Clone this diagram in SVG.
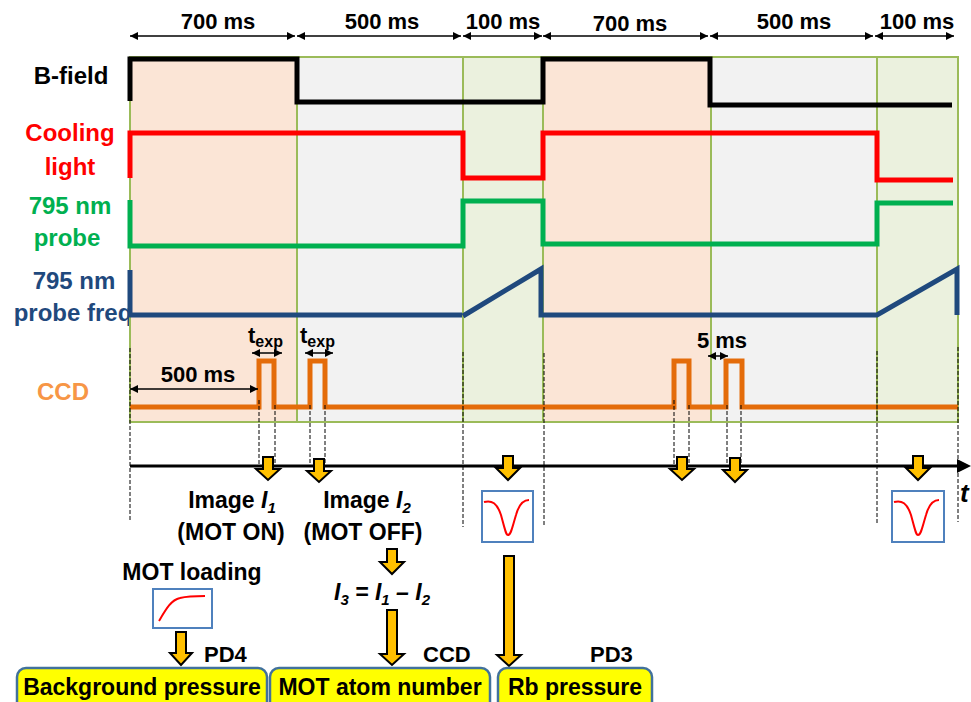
<svg xmlns="http://www.w3.org/2000/svg" width="971" height="702" viewBox="0 0 971 702">
<defs>
<marker id="ah" viewBox="0 0 10 10" refX="10" refY="5" markerWidth="8" markerHeight="8" markerUnits="userSpaceOnUse" orient="auto-start-reverse"><path d="M0,0 L10,5 L0,10 Z" fill="#000"/></marker>
<style>
text{font-family:"Liberation Sans",Arial,sans-serif;font-weight:bold}
.lbl{font-size:24px;text-anchor:middle}
.dim{font-size:22px;text-anchor:middle;fill:#000}
.t{font-size:23px;text-anchor:middle;fill:#000}
.reg{stroke:#9BBB59;stroke-width:2}
.peach{fill:#FBE5D6}.gray{fill:#F2F2F2}.grn{fill:#EBF1DE}
.sig{fill:none;stroke-width:5;stroke-linejoin:miter}
.dash{stroke:#000;stroke-width:1;stroke-dasharray:4,2;fill:none}
.dl{stroke:#000;stroke-width:1.5;fill:none;marker-start:url(#ah);marker-end:url(#ah)}
.blk{fill:#FFC000;stroke:#000;stroke-width:2}
.pbox{fill:#fff;stroke:#4F81BD;stroke-width:2}
.curve{fill:none;stroke:#FF0000;stroke-width:2}
.ybox{fill:#FFFF00;stroke:#41719C;stroke-width:2.5}
</style>
</defs>
<rect width="971" height="702" fill="#fff"/>
<g id="signal-labels">
<text class="lbl" x="71" y="84" fill="#000">B-field</text>
<text class="lbl" x="70" y="141" fill="#FF0000">Cooling</text>
<text class="lbl" x="70" y="175" fill="#FF0000">light</text>
<text class="lbl" x="70" y="214" fill="#00B050">795 nm</text>
<text class="lbl" x="67" y="246" fill="#00B050">probe</text>
<text class="lbl" x="74" y="289" fill="#1F497D">795 nm</text>
<text class="lbl" x="73" y="321" fill="#1F497D">probe freq</text>
<text class="lbl" x="63" y="400" fill="#F79646">CCD</text>
</g>
<g id="regions">
<rect class="reg peach" x="130" y="57" width="167" height="365"/>
<rect class="reg gray" x="297" y="57" width="166" height="365"/>
<rect class="reg grn" x="463" y="57" width="80" height="365"/>
<rect class="reg peach" x="543" y="57" width="168" height="365"/>
<rect class="reg gray" x="711" y="57" width="166" height="365"/>
<rect class="reg grn" x="877" y="57" width="81" height="365"/>
</g>
<g id="durations">
<line class="dl" x1="130" y1="36" x2="295" y2="36"/>
<line class="dl" x1="297" y1="36" x2="461" y2="36"/>
<line class="dl" x1="463" y1="36" x2="542" y2="36"/>
<line class="dl" x1="543" y1="36" x2="708" y2="36"/>
<line class="dl" x1="710" y1="36" x2="873" y2="36"/>
<line class="dl" x1="875" y1="36" x2="954" y2="36"/>
<text class="dim" x="218" y="29">700 ms</text>
<text class="dim" x="382" y="29">500 ms</text>
<text class="dim" x="503" y="29">100 ms</text>
<text class="dim" x="630" y="31">700 ms</text>
<text class="dim" x="794" y="29">500 ms</text>
<text class="dim" x="917" y="29">100 ms</text>
</g>
<g id="signals">
<path id="bfield" class="sig" stroke="#000" d="M130,101 V59 H297 V102 H543 V59 H710 V105 H952"/>
<path id="cooling" class="sig" stroke="#FF0000" d="M130,178 V133 H463 V178 H543 V133 H877 V180 H953"/>
<path id="probe" class="sig" stroke="#00B050" d="M130,200 V246 H463 V201 H543 V244 H877 V203 H953"/>
<path id="probefreq" class="sig" stroke="#1F497D" d="M130,270 V315 H462 M463,316 L541,269 V315 H877 L957,269 V315"/>
<path id="ccd" class="sig" stroke="#E46C0A" stroke-width="4" d="M130,407 H259 V361 H274 V407 H310 V361 H325 V407 H674 V361 H689 V407 H726 V361 H742 V407 H958"/>
</g>
<g id="markers-ccd">
<line class="dl" x1="130" y1="389" x2="258" y2="389"/>
<text class="dim" x="198" y="382">500 ms</text>
<text x="248" y="343" font-size="22" fill="#000">t<tspan font-size="16" dy="4">exp</tspan></text>
<line class="dl" x1="252" y1="353" x2="282" y2="353"/>
<text x="300" y="343" font-size="22" fill="#000">t<tspan font-size="16" dy="4">exp</tspan></text>
<line class="dl" x1="305" y1="353" x2="333" y2="353"/>
<text class="dim" x="722" y="348">5 ms</text>
<line class="dl" x1="708" y1="356" x2="728" y2="356"/>
</g>
<g id="dashes">
<line class="dash" x1="130" y1="348" x2="130" y2="522"/>
<line class="dash" x1="259" y1="400" x2="259" y2="464"/>
<line class="dash" x1="275" y1="405" x2="275" y2="464"/>
<line class="dash" x1="310" y1="405" x2="310" y2="464"/>
<line class="dash" x1="325" y1="405" x2="325" y2="464"/>
<line class="dash" x1="463" y1="352" x2="463" y2="527"/>
<line class="dash" x1="544" y1="353" x2="544" y2="527"/>
<line class="dash" x1="674" y1="400" x2="674" y2="464"/>
<line class="dash" x1="689" y1="405" x2="689" y2="464"/>
<line class="dash" x1="727" y1="405" x2="727" y2="464"/>
<line class="dash" x1="741" y1="405" x2="741" y2="464"/>
<line class="dash" x1="877" y1="351" x2="877" y2="525"/>
<line class="dash" x1="958" y1="347" x2="958" y2="522"/>
</g>
<g id="time-axis">
<line x1="130" y1="466" x2="960" y2="466" stroke="#000" stroke-width="3"/>
<polygon points="957,459 971,466 957,473" fill="#000"/>
<text x="960" y="502" font-size="26" font-style="italic" fill="#000">t</text>
</g>
<g id="connectors">
<path class="blk" d="M263,457 H273 V469 H280 L268,480 L256,469 H263 Z"/>
<path class="blk" d="M314,459 H324 V471 H331 L319,482 L307,471 H314 Z"/>
<path class="blk" d="M503,456 H513 V468 H520 L508,480 L496,468 H503 Z"/>
<path class="blk" d="M677,457 H687 V469 H694 L682,480 L670,469 H677 Z"/>
<path class="blk" d="M730,458 H740 V470 H747 L735,482 L723,470 H730 Z"/>
<path class="blk" d="M913,456 H923 V468 H930 L918,480 L906,468 H913 Z"/>
<path class="blk" d="M387,549 H397 V562 H404 L392,574 L380,562 H387 Z"/>
<path class="blk" d="M387,610 H397 V654 H404 L392,665 L380,654 H387 Z"/>
<path class="blk" d="M176,632 H186 V653 H192 L181,665 L170,653 H176 Z"/>
<path class="blk" d="M504,556 H514 V655 H521 L509,666 L497,655 H504 Z"/>
</g>
<g id="image1">
<text class="t" x="232" y="508">Image <tspan font-style="italic">I</tspan><tspan font-style="italic" font-size="15" dy="5">1</tspan></text>
<text class="t" x="231" y="540">(MOT ON)</text>
</g>
<g id="image2">
<text class="t" x="367" y="508">Image <tspan font-style="italic">I</tspan><tspan font-style="italic" font-size="15" dy="5">2</tspan></text>
<text class="t" x="363" y="540">(MOT OFF)</text>
</g>
<g id="difference">
<text class="t" x="382" y="600" font-style="italic">I<tspan font-size="15" dy="5">3</tspan><tspan dy="-5"> = I</tspan><tspan font-size="15" dy="5">1</tspan><tspan dy="-5"> – I</tspan><tspan font-size="15" dy="5">2</tspan></text>
</g>
<g id="mot-loading">
<text class="t" x="192" y="580">MOT loading</text>
<rect class="pbox" x="153" y="589" width="59" height="39"/>
<path class="curve" d="M159,621 C166,609 171,600 180,598 C188,596 196,596 205,596"/>
</g>
<g id="dip1">
<rect class="pbox" x="482" y="491" width="51" height="51"/>
<path class="curve" d="M484,502 C492,500 497,503 501,515 C505,530 506,535 508,535 C511,535 512,528 516,515 C519,504 523,500 529,500"/>
</g>
<g id="dip2">
<rect class="pbox" x="892" y="491" width="52" height="51"/>
<path class="curve" d="M894,502 C902,500 907,503 911,515 C915,530 916,535 918,535 C921,535 922,528 926,515 C929,504 933,500 939,500"/>
</g>
<g id="detectors">
<text x="204" y="662" font-size="22" fill="#000">PD4</text>
<text x="423" y="662" font-size="22" fill="#000">CCD</text>
<text x="590" y="662" font-size="22" fill="#000">PD3</text>
</g>
<g id="background-pressure">
<rect class="ybox" x="17" y="668" width="250" height="50" rx="9"/>
<text class="t" x="142" y="695">Background pressure</text>
</g>
<g id="mot-atom-number">
<rect class="ybox" x="270" y="668" width="220" height="50" rx="9"/>
<text class="t" x="380" y="695">MOT atom number</text>
</g>
<g id="rb-pressure">
<rect class="ybox" x="498" y="668" width="154" height="50" rx="9"/>
<text class="t" x="575" y="695">Rb pressure</text>
</g>
</svg>
